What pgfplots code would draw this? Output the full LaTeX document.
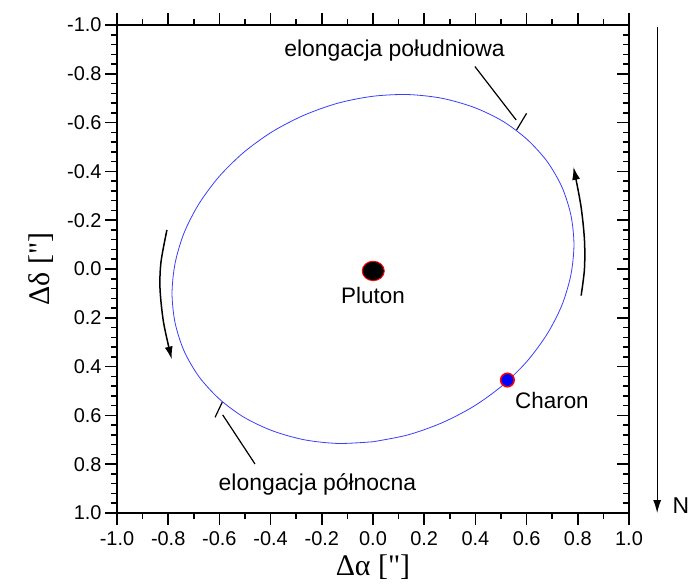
\documentclass[border=0pt]{standalone}
\usepackage{pgfplots}
\pgfplotsset{compat=1.18}
\usepackage{fontspec}
\setmainfont{Liberation Sans}
\newfontfamily\serif{Liberation Serif}
\usetikzlibrary{arrows.meta}
\definecolor{orbit}{RGB}{60,60,255}

\begin{document}
\begin{tikzpicture}
\useasboundingbox (-117bp,-71bp) rectangle (571bp,513bp);
\pgfplotsset{
  base/.style={
    scale only axis, width=512bp, height=488bp,
    xmin=-1, xmax=1, ymin=-1, ymax=1, y dir=reverse,
    xtick={-1,-0.8,-0.6,-0.4,-0.2,0,0.2,0.4,0.6,0.8,1},
    ytick={-1,-0.8,-0.6,-0.4,-0.2,0,0.2,0.4,0.6,0.8,1},
    minor x tick num=1, minor y tick num=4,
    major tick length=12bp, minor tick length=6bp,
    every tick/.style={black, line width=1.5bp},
    axis line style={line width=1.8bp},
    clip=false,
  }
}
\begin{axis}[base,
  tick align=outside,
  xtick pos=both, xticklabel pos=lower, ytick pos=left,
  ticklabel style={font=\fontsize{20}{20}\selectfont},
  xticklabel style={yshift=-3bp},
  /pgf/number format/.cd, fixed, fixed zerofill, precision=1, assume math mode=true,
  /pgfplots/.cd,
  label style={font=\fontsize{30}{30}\selectfont},
  xlabel={{\serif Δα ["]}},
  ylabel={{\serif Δδ ["]}},
  xlabel shift=2bp,
  ylabel shift=7bp,
]

% orbit of Charon
\addplot[orbit, line width=0.8bp, smooth] coordinates {
(0.000,0.708) (-0.136,0.715) (-0.268,0.700) (-0.393,0.663) (-0.505,0.607)
(-0.601,0.532) (-0.680,0.441) (-0.738,0.336) (-0.773,0.221) (-0.785,0.100)
(-0.773,-0.024) (-0.738,-0.148) (-0.680,-0.267) (-0.601,-0.379) (-0.505,-0.478)
(-0.393,-0.563) (-0.268,-0.631) (-0.136,-0.680) (0.000,-0.708) (0.136,-0.715)
(0.268,-0.700) (0.393,-0.663) (0.505,-0.607) (0.601,-0.532) (0.680,-0.441)
(0.738,-0.336) (0.773,-0.221) (0.785,-0.100) (0.773,0.024) (0.738,0.148)
(0.680,0.267) (0.601,0.379) (0.505,0.478) (0.393,0.563) (0.268,0.631)
(0.136,0.680) (0.000,0.708)};

% elongation marks and leaders
\addplot[black, line width=1.2bp] coordinates {(0.561,-0.570) (0.600,-0.638)};
\addplot[black, line width=1.2bp] coordinates {(0.398,-0.830) (0.559,-0.611)};
\addplot[black, line width=1.2bp] coordinates {(-0.589,0.546) (-0.617,0.608)};
\addplot[black, line width=1.2bp] coordinates {(-0.587,0.598) (-0.461,0.799)};

% direction arrows
\addplot[black, line width=1.5bp, smooth, -{Latex[length=13bp,width=8bp]}]
  coordinates {(-0.805,-0.160) (-0.828,-0.030) (-0.832,0.080) (-0.818,0.220) (-0.786,0.371)};
\addplot[black, line width=1.5bp, smooth, -{Latex[length=13bp,width=8bp]}]
  coordinates {(0.813,0.109) (0.826,0.000) (0.826,-0.120) (0.812,-0.260) (0.783,-0.419)};

% north arrow
\addplot[black, line width=1bp, -{Latex[length=13bp,width=8bp]}]
  coordinates {(1.11,-0.992) (1.11,1.0)};

% Pluton and Charon
\addplot[only marks, mark=*, mark size=11bp,
  mark options={fill=black, draw=red, line width=1bp, yscale=0.88}] coordinates {(0.001,0.008)};
\addplot[only marks, mark=*, mark size=6.8bp,
  mark options={fill=blue, draw=red, line width=1.5bp}] coordinates {(0.525,0.455)};

\node[font=\fontsize{22.5}{22.5}\selectfont] at (axis cs:0.0,0.107) {Pluton};
\node[font=\fontsize{22.5}{22.5}\selectfont] at (axis cs:0.699,0.537) {Charon};
\node[font=\fontsize{23}{23}\selectfont, anchor=base] at (axis cs:0.084,-0.869) {elongacja południowa};
\node[font=\fontsize{23}{23}\selectfont, anchor=base] at (axis cs:-0.217,0.909) {elongacja północna};
\node[font=\fontsize{23}{23}\selectfont] at (axis cs:1.203,0.971) {N};
\end{axis}

\begin{axis}[base,
  tick align=inside, xtick=\empty, ytick pos=right, yticklabel={\relax},
]
\end{axis}
\end{tikzpicture}
\end{document}
